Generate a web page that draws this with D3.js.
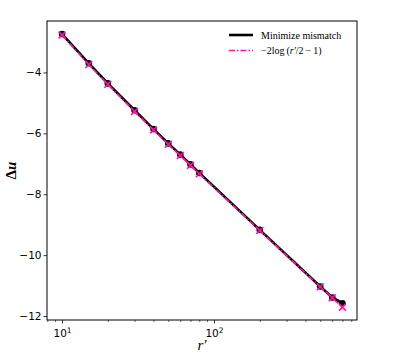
<!DOCTYPE html>
<html><head><meta charset="utf-8">
<script src="https://cdn.jsdelivr.net/npm/d3@7"></script>
<style>body{margin:0;background:#fff}svg{display:block}</style>
</head><body>
<script>
const rValues = [10, 15, 20, 30, 40, 50, 60, 70, 80, 200, 500, 600, 700];
const mismatchValues = [-2.74, -3.70, -4.36, -5.24, -5.86, -6.33, -6.70, -7.02, -7.30, -9.17, -11.03, -11.39, -11.58];
const formulaValues = [-2.77, -3.74, -4.39, -5.28, -5.89, -6.36, -6.73, -7.05, -7.33, -9.19, -11.04, -11.40, -11.71];
const yTicks = [-4, -6, -8, -10, -12];
const xMajorTicks = [10, 100];
const xMinorTicks = [8, 9, 20, 30, 40, 50, 60, 70, 80, 90, 200, 300, 400, 500, 600, 700, 800];

const W = 397, H = 357;
const L = 47, R = 357, T = 21, B = 320;
const PINK = "#ff10a8";
const svg = d3.select("body").append("svg").attr("width", W).attr("height", H);

const x = d3.scaleLog().domain([7.96, 873]).range([L, R]);
const y = d3.scaleLinear().domain([-12.13, -2.31]).range([B, T]);

// axes
const xAxis = d3.axisBottom(x).tickValues(xMajorTicks).tickSize(3.5).tickPadding(3)
  .tickFormat(() => "");
const gx = svg.append("g").attr("transform", `translate(0,${B})`).call(xAxis);
gx.select(".domain").remove();
gx.selectAll(".tick line").attr("stroke", "#000").attr("stroke-width", 0.8);
gx.selectAll(".tick").each(function(d) {
  const t = d3.select(this).append("text").attr("y", 17).attr("text-anchor", "middle")
    .attr("font-family", "DejaVu Sans").attr("font-size", 10.5).attr("fill", "#000");
  t.append("tspan").text("10");
  t.append("tspan").attr("dy", -4).attr("font-size", 7.5).text(Math.round(Math.log10(d)));
});
const xMinor = d3.axisBottom(x).tickValues(xMinorTicks.filter(v => x(v) >= L && x(v) <= R)).tickSize(2).tickFormat("");
const gxm = svg.append("g").attr("transform", `translate(0,${B})`).call(xMinor);
gxm.select(".domain").remove();
gxm.selectAll(".tick line").attr("stroke", "#000").attr("stroke-width", 0.6);

const yAxis = d3.axisLeft(y).tickValues(yTicks).tickSize(3.5).tickPadding(2)
  .tickFormat(d => "\u2212" + Math.abs(d));
const gy = svg.append("g").attr("transform", `translate(${L},0)`).call(yAxis);
gy.select(".domain").remove();
gy.selectAll(".tick line").attr("stroke", "#000").attr("stroke-width", 0.8);
gy.selectAll("text").attr("font-family", "DejaVu Sans").attr("font-size", 10.5).attr("fill", "#000");

// lines
const data1 = rValues.map((r, i) => [r, mismatchValues[i]]);
const data2 = rValues.map((r, i) => [r, formulaValues[i]]);
const line = d3.line().x(d => x(d[0])).y(d => y(d[1]));

svg.append("path").datum(data1).attr("d", line).attr("fill", "none")
  .attr("stroke", "#000").attr("stroke-width", 2.6);
svg.selectAll("circle.m").data(data1).enter().append("circle")
  .attr("cx", d => x(d[0])).attr("cy", d => y(d[1])).attr("r", 3.3).attr("fill", "#000");

svg.append("path").datum(data2).attr("d", line).attr("fill", "none")
  .attr("stroke", PINK).attr("stroke-width", 1.6).attr("stroke-dasharray", "6,2,1.5,2");
const s = 3.4;
svg.selectAll("path.x").data(data2).enter().append("path")
  .attr("d", d => { const cx = x(d[0]), cy = y(d[1]);
    return `M${cx-s},${cy-s}L${cx+s},${cy+s}M${cx-s},${cy+s}L${cx+s},${cy-s}`; })
  .attr("stroke", PINK).attr("stroke-width", 1.6).attr("fill", "none");

// frame
svg.append("rect").attr("x", L).attr("y", T).attr("width", R - L).attr("height", B - T)
  .attr("fill", "none").attr("stroke", "#000").attr("stroke-width", 1);

// legend
const lg = svg.append("g").attr("font-family", "Liberation Serif").attr("font-size", 10).attr("fill", "#000");
lg.append("line").attr("x1", 229).attr("x2", 253).attr("y1", 35).attr("y2", 35)
  .attr("stroke", "#000").attr("stroke-width", 2.6);
lg.append("text").attr("x", 261).attr("y", 38.5).text("Minimize mismatch");
lg.append("line").attr("x1", 229).attr("x2", 253).attr("y1", 50.5).attr("y2", 50.5)
  .attr("stroke", PINK).attr("stroke-width", 1.6).attr("stroke-dasharray", "6,2,1.5,2");
const t2 = lg.append("text").attr("x", 261).attr("y", 54);
t2.append("tspan").text("\u22122log\u2009(");
t2.append("tspan").attr("font-style", "italic").text("r\u2032");
t2.append("tspan").text("/2\u2009\u2212\u20091)");

// axis labels
svg.append("text").attr("transform", `translate(16,${(T + B) / 2}) rotate(-90)`)
  .attr("text-anchor", "middle").attr("font-family", "Liberation Serif").attr("font-size", 15)
  .attr("font-weight", "bold").attr("fill", "#000")
  .call(t => { t.append("tspan").text("\u0394"); t.append("tspan").attr("font-style", "italic").text("u"); });
svg.append("text").attr("x", 202).attr("y", 350).attr("text-anchor", "middle")
  .attr("font-family", "Liberation Serif").attr("font-size", 15).attr("font-style", "italic")
  .attr("fill", "#000").text("r\u2032");
</script>
</body></html>
